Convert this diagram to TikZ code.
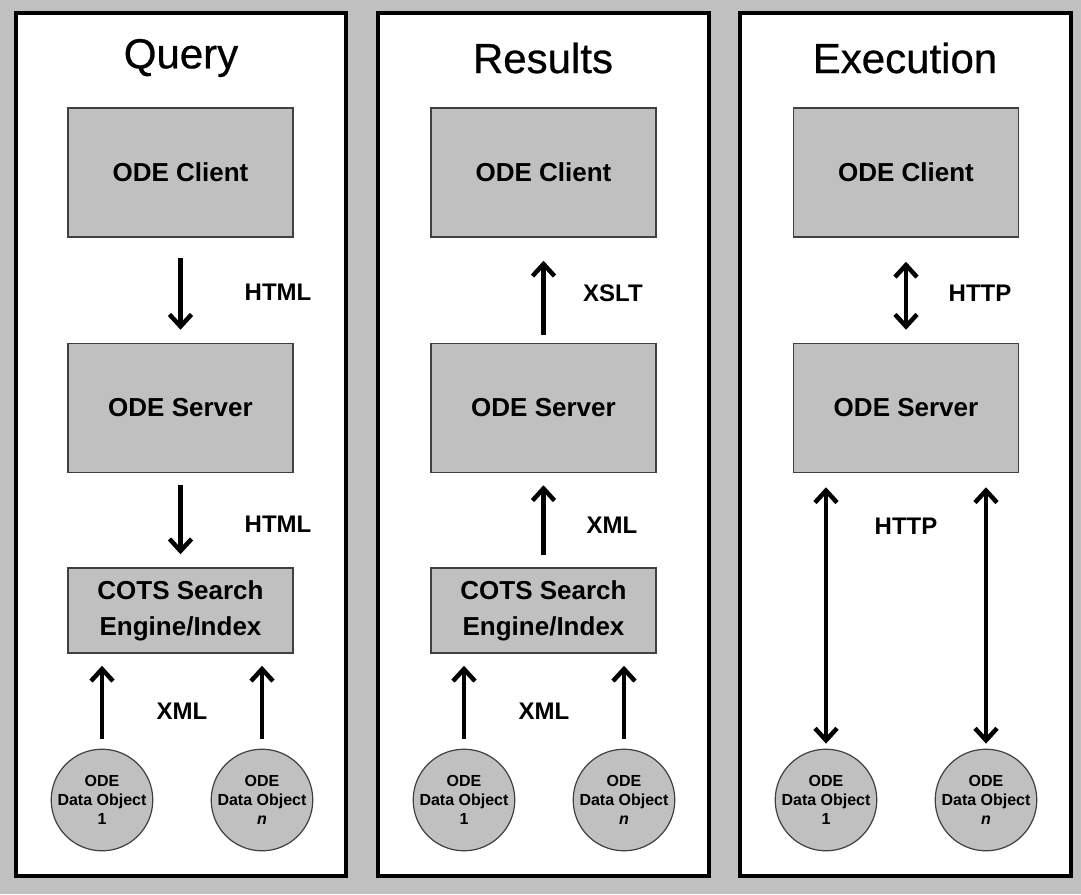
\documentclass[tikz,border=0pt]{standalone}
\usepackage{fontspec}
\setmainfont{Liberation Sans}
\newfontfamily\titlefont[FakeBold=0.6]{Liberation Sans}
\usetikzlibrary{arrows.meta}
\definecolor{bg}{HTML}{C0C0C0}
\definecolor{edge}{HTML}{404040}
\begin{document}
\begin{tikzpicture}[x=1pt,y=-1pt,
  panel/.style={draw=black,line width=4pt,fill=white},
  box/.style={draw=edge,line width=1.5pt,fill=bg,minimum width=225pt,inner sep=0pt,font=\fontsize{26}{36}\selectfont\bfseries,align=center},
  client/.style={box,minimum height=129pt},
  cots/.style={box,minimum height=85pt},
  obj/.style={circle,draw=edge,line width=1.2pt,fill=bg,minimum size=100pt,inner sep=0pt,font=\fontsize{16}{19}\selectfont\bfseries,align=center},
  title/.style={font=\titlefont\fontsize{42}{50}\selectfont},
  lbl/.style={font=\fontsize{24}{28}\selectfont\bfseries},
  tip/.tip={Straight Barb[length=12pt,width=22pt,line width=4.5pt]},
  arr/.style={line width=4.5pt,-tip},
  darr/.style={line width=4.5pt,tip-tip}
]
\fill[bg] (0,0) rectangle (1081,894);
\useasboundingbox (0,0) rectangle (1081,894);
% panels
\draw[panel] (16,13) rectangle (346,876);
\draw[panel] (378,13) rectangle (709,876);
\draw[panel] (740,13) rectangle (1071,876);
% titles
\node[title] (t1) at (181,58) {Query};
\node[title] (t2) at (543,58) {Results};
\node[title] (t3) at (905,58) {Execution};
% Query column
\node[client] (qc) at (180.5,172.5) {ODE Client};
\node[client] (qs) at (180.5,408) {ODE Server};
\node[cots] (qi) at (180.5,610.5) {COTS Search\\Engine/Index};
\node[obj] (q1) at (102,800) {ODE\\Data Object\\1};
\node[obj] (qn) at (262,800) {ODE\\Data Object\\\textit{n}};
\draw[arr,shorten <=20pt,shorten >=13pt] (qc.south) -- (qs.north);
\draw[arr,shorten <=12pt,shorten >=13pt] (qs.south) -- (qi.north);
\draw[arr,shorten <=10pt,shorten >=12pt] (q1.north) -- (q1.north |- qi.south);
\draw[arr,shorten <=10pt,shorten >=12pt] (qn.north) -- (qn.north |- qi.south);
\node[lbl] (ql1) at (278,292) {HTML};
\node[lbl] (ql2) at (278,524) {HTML};
\node[lbl] (ql3) at (182,711) {XML};
% Results column
\node[client] (rc) at (543.5,172.5) {ODE Client};
\node[client] (rs) at (543.5,408) {ODE Server};
\node[cots] (ri) at (543.5,610.5) {COTS Search\\Engine/Index};
\node[obj] (r1) at (464,800) {ODE\\Data Object\\1};
\node[obj] (rn) at (624,800) {ODE\\Data Object\\\textit{n}};
\draw[arr,shorten <=8pt,shorten >=23pt] (rs.north) -- (rc.south);
\draw[arr,shorten <=12pt,shorten >=12pt] (ri.north) -- (rs.south);
\draw[arr,shorten <=10pt,shorten >=12pt] (r1.north) -- (r1.north |- ri.south);
\draw[arr,shorten <=10pt,shorten >=12pt] (rn.north) -- (rn.north |- ri.south);
\node[lbl] (rl1) at (613,293) {XSLT};
\node[lbl] (rl2) at (612,525) {XML};
\node[lbl] (rl3) at (544,711) {XML};
% Execution column
\node[client] (ec) at (906,172.5) {ODE Client};
\node[client] (es) at (906,408) {ODE Server};
\node[obj] (e1) at (826,800) {ODE\\Data Object\\1};
\node[obj] (en) at (986,800) {ODE\\Data Object\\\textit{n}};
\draw[darr,shorten <=24pt,shorten >=13pt] (ec.south) -- (es.north);
\draw[darr,shorten <=5pt,shorten >=14pt] (e1.north) -- (e1.north |- es.south);
\draw[darr,shorten <=5pt,shorten >=14pt] (en.north) -- (en.north |- es.south);
\node[lbl] (el1) at (980,293) {HTTP};
\node[lbl] (el2) at (906,526) {HTTP};
\end{tikzpicture}
\end{document}
